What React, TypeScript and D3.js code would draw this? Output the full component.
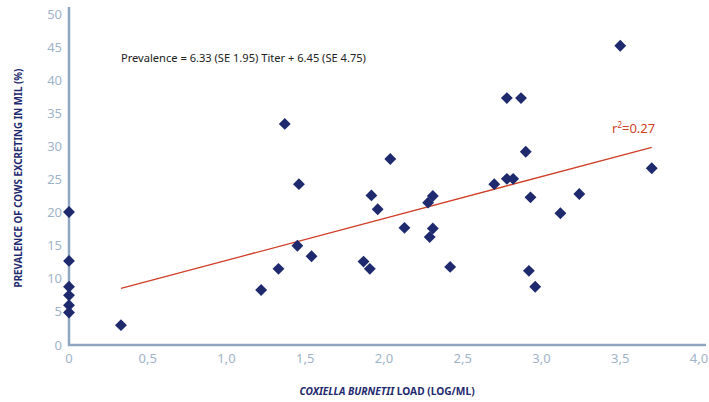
import { useMemo } from 'react'
import * as d3 from 'd3'

// Coxiella burnetii load (log/ml) vs prevalence (%) per herd
const LOAD = [
  0, 0, 0, 0, 0, 0, 0.33, 1.22, 1.33, 1.37, 1.45, 1.46, 1.54, 1.87, 1.91, 1.92,
  1.96, 2.04, 2.13, 2.28, 2.31, 2.29, 2.31, 2.42, 2.70, 2.78, 2.78, 2.82, 2.87,
  2.90, 2.93, 2.92, 2.96, 3.12, 3.24, 3.50, 3.70,
]
const PREVALENCE = [
  20.1, 12.7, 8.8, 7.5, 6.0, 4.9, 3.0, 8.3, 11.5, 33.4, 15.0, 24.3, 13.4, 12.6,
  11.5, 22.6, 20.5, 28.1, 17.7, 21.5, 22.5, 16.3, 17.6, 11.8, 24.3, 37.3, 25.1,
  25.1, 37.3, 29.2, 22.3, 11.2, 8.8, 19.9, 22.8, 45.2, 26.7,
]
const X_TICKS = [0, 0.5, 1, 1.5, 2, 2.5, 3, 3.5, 4]
const Y_TICKS = [0, 5, 10, 15, 20, 25, 30, 35, 40, 45, 50]
const SLOPE = 6.33
const INTERCEPT = 6.45
const FIT_RANGE = [0.33, 3.7]

const W = 709
const H = 402
const FONT = "'Noto Sans', 'Open Sans', sans-serif"
const NAVY = '#1f2a6e'
const AXIS = '#8ea6bf'
const TICK_TEXT = '#9fb3c8'
const RED = '#cf3f28'

export default function App() {
  const x = useMemo(() => d3.scaleLinear().domain([0, 4]).range([69, 699]), [])
  const y = useMemo(() => d3.scaleLinear().domain([0, 50]).range([345, 14]), [])

  const points = LOAD.map((v, i) => ({ load: v, prev: PREVALENCE[i] }))
  const diamond = d3.symbol().type(d3.symbolDiamond2).size(90)()
  const fmt = (d: number) => (d === 0 ? '0' : d3.format('.1f')(d).replace('.', ','))

  return (
    <svg width={W} height={H} style={{ position: 'absolute', left: 0, top: 0, background: '#fff' }} fontFamily={FONT}>
      {/* axes */}
      <line x1={x(0)} x2={x(0)} y1={7} y2={y(0) + 1} stroke={AXIS} strokeWidth={2.5} />
      <line x1={x(0) - 1} x2={706} y1={y(0)} y2={y(0)} stroke={AXIS} strokeWidth={2.5} />

      {Y_TICKS.map(t => (
        <text key={t} x={62} y={y(t)} dy="0.35em" textAnchor="end" fill={TICK_TEXT} fontSize={13}>
          {t}
        </text>
      ))}
      {X_TICKS.map(t => (
        <text key={t} x={x(t)} y={358} dy="0.35em" textAnchor="middle" fill={TICK_TEXT} fontSize={13}>
          {fmt(t)}
        </text>
      ))}

      {/* axis titles */}
      <text
        transform={`translate(19,178) rotate(-90)`}
        textAnchor="middle"
        dy="0.35em"
        fill={NAVY}
        fontSize={9.8}
        fontWeight="bold"
      >
        PREVALENCE OF COWS EXCRETING IN MIL (%)
      </text>
      <text x={387} y={391} textAnchor="middle" dy="0.35em" fill={NAVY} fontSize={10.2} fontWeight="bold">
        <tspan fontStyle="italic">COXIELLA BURNETII</tspan> LOAD (LOG/ML)
      </text>

      {/* regression */}
      <line
        x1={x(FIT_RANGE[0])}
        y1={y(SLOPE * FIT_RANGE[0] + INTERCEPT)}
        x2={x(FIT_RANGE[1])}
        y2={y(SLOPE * FIT_RANGE[1] + INTERCEPT)}
        stroke={RED}
        strokeWidth={1.3}
      />
      <text x={121} y={58} dy="0.35em" fill="#222" fontSize={11.1}>
        Prevalence = 6.33 (SE 1.95) Titer + 6.45 (SE 4.75)
      </text>
      <text x={612} y={128} dy="0.35em" fill={RED} fontSize={13}>
        r<tspan fontSize={8} dy={-5}>2</tspan>
        <tspan dy={5}>=0.27</tspan>
      </text>

      {/* data */}
      {points.map((p, i) => (
        <path key={i} d={diamond ?? ''} transform={`translate(${x(p.load)},${y(p.prev)})`} fill={NAVY} />
      ))}
    </svg>
  )
}
